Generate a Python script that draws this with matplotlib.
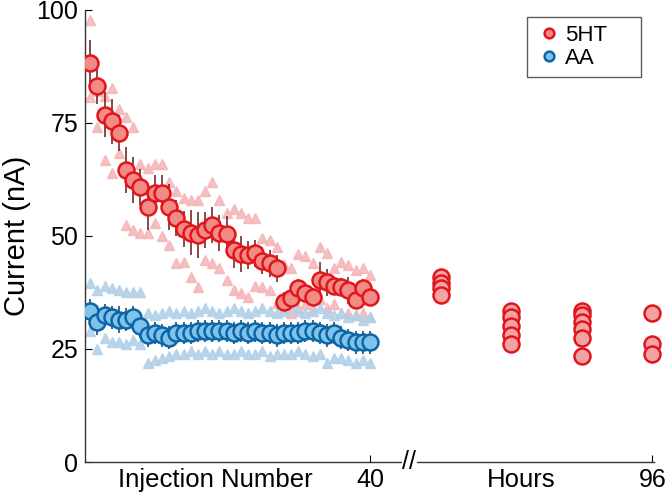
import matplotlib
matplotlib.use("Agg")
import matplotlib.pyplot as plt
import numpy as np
from matplotlib.lines import Line2D

plt.rcParams["font.family"] = ["Liberation Sans", "DejaVu Sans"]

injections = np.arange(1, 41)

ht_mean = [88.3, 83.2, 76.8, 75.4, 72.8, 64.6, 62.4, 60.8, 56.4, 59.5,
           59.5, 56.4, 54.0, 51.5, 50.7, 50.2, 51.3, 52.5, 50.7, 50.5,
           47.0, 46.0, 45.8, 46.2, 44.5, 44.0, 42.9, 35.5, 36.3, 38.5,
           37.4, 36.5, 40.3, 39.8, 39.0, 38.7, 38.0, 35.8, 38.5, 36.5]
ht_err = [5, 4, 5, 5, 4, 5, 5, 4, 5, 4,
          4, 5, 4, 4, 5, 5, 4, 4, 4, 4,
          4, 4, 3, 3, 3, 3, 3, 2, 2, 2,
          2, 2, 4, 3, 2, 2, 3, 2, 2, 2]
ht_upper = [97.8, 82.0, 81.0, 82.7, 78.0, 76.4, 74.0, 66.0, 65.0, 66.0,
            66.0, 62.0, 60.0, 58.4, 58.0, 58.0, 60.0, 62.0, 58.0, 55.0,
            56.0, 55.0, 54.0, 54.0, 49.6, 49.0, 47.6, 43.5, 43.0, 46.0,
            45.5, 44.0, 47.6, 46.2, 43.0, 44.2, 43.6, 42.5, 42.9, 41.4]
ht_lower = [80.8, 74.0, 66.8, 64.0, 68.3, 52.4, 51.3, 50.7, 50.7, 52.9,
            50.0, 48.0, 44.0, 44.2, 41.0, 38.7, 44.7, 44.0, 42.9, 40.3,
            38.0, 37.4, 36.5, 39.0, 38.7, 38.0, 35.2, 34.0, 33.0, 34.0,
            35.0, 34.0, 36.0, 34.0, 35.0, 33.0, 33.0, 32.5, 33.0, 32.0]

aa_mean = [33.5, 31.0, 32.5, 32.0, 31.5, 31.5, 32.0, 30.0, 28.0, 28.5,
           28.0, 27.5, 28.5, 28.5, 28.5, 29.0, 29.0, 29.0, 29.0, 29.0,
           28.5, 29.0, 28.5, 29.0, 28.5, 28.5, 28.0, 28.5, 28.5, 28.5,
           29.0, 29.0, 28.5, 28.0, 28.5, 27.5, 27.0, 26.5, 26.5, 26.5]
aa_err = [2.5, 3, 2.5, 2.5, 3, 2.5, 2.5, 2.5, 2.5, 2.5,
          2.5, 2.5, 2.5, 2.5, 2.5, 2.5, 2.5, 2.5, 2.5, 2.5,
          2.5, 2.5, 2.5, 2.5, 2.5, 2.5, 2.5, 2.5, 2.5, 2.5,
          2.5, 2.5, 2.5, 2.5, 2.5, 2.5, 2.5, 2.5, 2.5, 2.5]
aa_upper = [39.5, 38.0, 39.0, 38.5, 38.0, 37.5, 37.5, 37.5, 33.0, 32.5,
            33.0, 33.5, 33.0, 33.5, 33.0, 33.5, 34.0, 33.5, 33.0, 33.5,
            34.0, 33.5, 33.0, 33.5, 34.0, 33.5, 33.0, 33.5, 34.5, 33.5,
            33.0, 33.5, 34.0, 33.0, 32.5, 33.0, 32.0, 32.5, 31.5, 32.0]
aa_lower = [29.0, 25.0, 27.5, 26.5, 26.5, 26.0, 27.0, 26.0, 22.0, 22.5,
            23.0, 23.5, 24.0, 24.0, 24.5, 24.0, 24.5, 24.0, 24.5, 24.0,
            24.0, 24.5, 24.0, 24.0, 24.5, 23.5, 24.0, 24.0, 24.0, 24.5,
            24.0, 23.5, 24.0, 22.0, 23.0, 23.0, 22.5, 22.0, 22.5, 22.0]

hours = [24, 48, 72, 96]
hours_vals = [[41.0, 39.5, 38.5, 37.0],
              [33.5, 32.0, 30.0, 28.0, 26.0],
              [33.5, 32.5, 31.0, 29.5, 27.5, 23.5],
              [33.0, 26.0, 24.0]]

x_tick_labels = ["40", "96"]


def hour_to_x(h):
    return 40 + h * 0.41


fig = plt.figure(figsize=(6.66, 4.97), dpi=100)
ax = fig.add_axes([0.128, 0.0704, 0.854, 0.9096])

red_edge = "#e3151c"
red_face = "#f28b86"
red_tri = "#f5b7ba"
red_err = "#6e1616"
blue_edge = "#0b65a8"
blue_face = "#7fc2ea"
blue_tri = "#b3d1e8"
blue_err = "#0d3a63"

for arr in (ht_upper, ht_lower):
    ax.plot(injections, arr, linestyle="none", marker="^", markersize=6.5,
            color=red_tri, markeredgecolor=red_tri, alpha=0.9, zorder=1)
for arr in (aa_upper, aa_lower):
    ax.plot(injections, arr, linestyle="none", marker="^", markersize=6.5,
            color=blue_tri, markeredgecolor=blue_tri, alpha=0.9, zorder=1)

ax.errorbar(injections, ht_mean, yerr=ht_err, fmt="none", ecolor=red_err,
            elinewidth=1.1, capsize=0, zorder=2)
ax.plot(injections, ht_mean, linestyle="none", marker="o", markersize=11.5,
        markerfacecolor=red_face, markeredgecolor=red_edge, markeredgewidth=1.8,
        zorder=3)
ax.errorbar(injections, aa_mean, yerr=aa_err, fmt="none", ecolor=blue_err,
            elinewidth=1.1, capsize=0, zorder=2)
ax.plot(injections, aa_mean, linestyle="none", marker="o", markersize=11.5,
        markerfacecolor=blue_face, markeredgecolor=blue_edge, markeredgewidth=1.8,
        zorder=3)

for h, vals in zip(hours, hours_vals):
    xs = [hour_to_x(h)] * len(vals)
    ax.plot(xs, vals, linestyle="none", marker="o", markersize=11.5,
            markerfacecolor="#f3a3a3", markeredgecolor=red_edge,
            markeredgewidth=1.8, zorder=3, clip_on=False)

ax.set_xlim(0.3, 79.6)
ax.set_ylim(0, 100)
ax.spines["top"].set_visible(False)
ax.spines["right"].set_visible(False)
for s in ("left", "bottom"):
    ax.spines[s].set_color("#333333")
    ax.spines[s].set_linewidth(1.0)

ax.set_yticks([0, 25, 50, 75, 100])
ax.tick_params(axis="y", direction="in", length=5, labelsize=18, pad=5)
ax.set_xticks([40, hour_to_x(96)])
ax.set_xticklabels(x_tick_labels)
ax.tick_params(axis="x", direction="in", length=5, labelsize=18, pad=4)
ax.set_ylabel("Current (nA)", fontsize=21, labelpad=4)

ax.text(18.4, -1.3, "Injection Number", ha="center", va="top", fontsize=18.5,
        transform=ax.transData)
ax.text(hour_to_x(51.5), -1.3, "Hours", ha="center", va="top", fontsize=18.5,
        transform=ax.transData)
ax.text(45.5, 0, "//", ha="center", va="center", fontsize=18,
        transform=ax.transData, bbox=dict(facecolor="white", edgecolor="none", pad=0.3))

handles = [Line2D([], [], linestyle="none", marker="o", markersize=7,
                  markerfacecolor=red_face, markeredgecolor=red_edge, markeredgewidth=1.8),
           Line2D([], [], linestyle="none", marker="o", markersize=7,
                  markerfacecolor=blue_face, markeredgecolor=blue_edge, markeredgewidth=1.8)]
leg = ax.legend(handles, ["5HT", "AA"], loc="upper left",
                bbox_to_anchor=(0.777, 0.854, 0.2, 0.13), mode="expand",
                fontsize=16, frameon=True, fancybox=False, handlelength=1.3,
                handletextpad=0.05, borderpad=0.35, labelspacing=0.1,
                borderaxespad=0.0)
leg.get_frame().set_edgecolor("#333333")
leg.get_frame().set_linewidth(1.0)

fig.savefig("out.png", dpi=100)
